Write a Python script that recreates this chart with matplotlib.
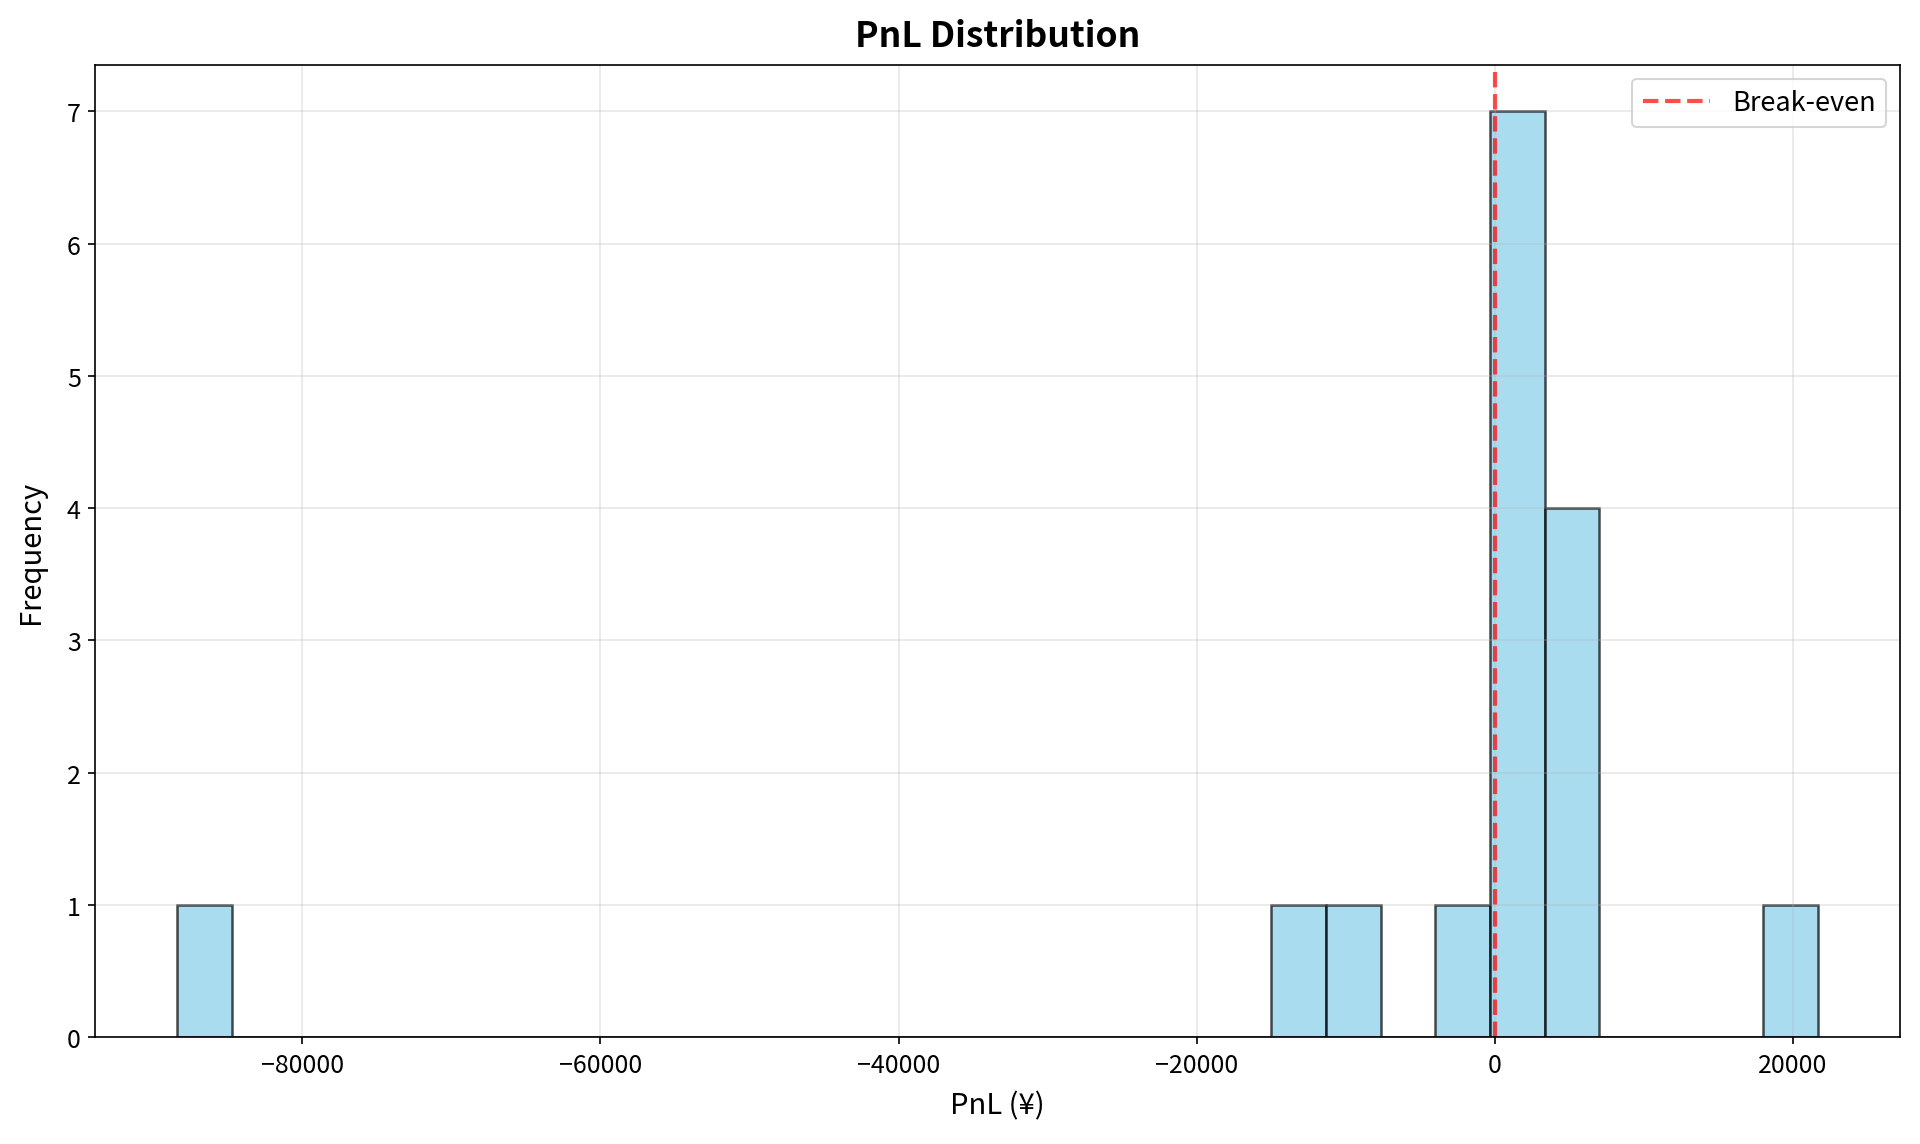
import matplotlib
matplotlib.use("Agg")
import matplotlib.pyplot as plt

plt.rcParams['font.family'] = ['Noto Sans CJK JP', 'DejaVu Sans']

# trade PnL values (yen)
pnl = [-88370, -13200, -9600, -1800,
       150, 600, 900, 1300, 1800, 2400, 2900,
       3800, 4500, 5200, 6100,
       21670]
n_bins = 30

fig = plt.figure(figsize=(12.8, 7.633), dpi=150)
ax = fig.add_axes([0.0497, 0.0934, 0.9399, 0.8489])

ax.hist(pnl, bins=n_bins, color='skyblue', alpha=0.7, edgecolor='black', linewidth=1.2)
ax.axvline(0, color='red', linestyle='--', linewidth=2, alpha=0.7, label='Break-even')

ax.set_title('PnL Distribution', fontsize=17, fontweight='bold', pad=9)
ax.set_xlabel('PnL (¥)', fontsize=14, labelpad=6)
ax.set_ylabel('Frequency', fontsize=14, labelpad=10)
ax.tick_params(labelsize=12)
ax.grid(True, alpha=0.3)
ax.legend(fontsize=13, loc='upper right', handlelength=2.5)

fig.savefig('out.png', dpi=150)
